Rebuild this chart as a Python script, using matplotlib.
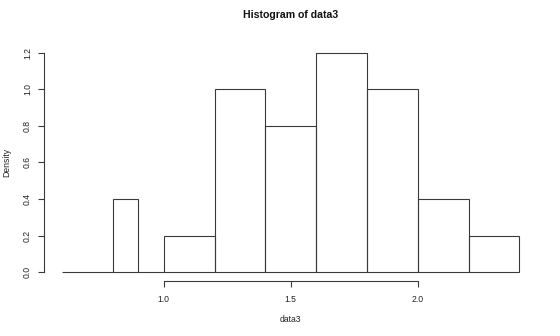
import numpy as np
import matplotlib
matplotlib.use("Agg")
import matplotlib.pyplot as plt

# Histogram of data3 (R style, density scale)
breaks = [0.6, 0.8, 0.9, 1.0, 1.2, 1.4, 1.6, 1.8, 2.0, 2.2, 2.4]
density = [0.0, 0.4, 0.0, 0.2, 1.0, 0.8, 1.2, 1.0, 0.4, 0.2]
x_ticks = [1.0, 1.5, 2.0]
y_ticks = [0.0, 0.2, 0.4, 0.6, 0.8, 1.0, 1.2]

LINE = "#3a3a3a"
TEXT = "#222222"

plt.rcParams["font.family"] = ["Liberation Sans", "DejaVu Sans"]

W, H = 560, 336
fig = plt.figure(figsize=(W / 100, H / 100), dpi=100)
fig.patch.set_facecolor("white")

# plot region in pixels
left, right, top, bottom = 43.8, 537.7, 43.9, 281.0
ax = fig.add_axes([left / W, 1 - bottom / H, (right - left) / W, (bottom - top) / H])

edges = np.array(breaks)
ax.bar(edges[:-1], density, width=np.diff(edges), align="edge",
       fill=False, edgecolor=LINE, linewidth=0.8)

# R adds 4% on both sides
xr = edges[-1] - edges[0]
ax.set_xlim(edges[0] - 0.04 * xr, edges[-1] + 0.04 * xr)
yr = max(y_ticks)
ax.set_ylim(-0.04 * yr, yr * 1.04)

for s in ["top", "right"]:
    ax.spines[s].set_visible(False)
ax.spines["left"].set_bounds(y_ticks[0], y_ticks[-1])
ax.spines["bottom"].set_bounds(x_ticks[0], x_ticks[-1])
for s in ["left", "bottom"]:
    ax.spines[s].set_color(LINE)
    ax.spines[s].set_linewidth(0.8)

ax.set_xticks(x_ticks)
ax.set_xticklabels([f"{v:.1f}" for v in x_ticks])
ax.set_yticks(y_ticks)
ax.set_yticklabels([f"{v:.1f}" for v in y_ticks], rotation=90, va="center")
ax.tick_params(axis="both", length=4, width=0.8, color=LINE,
               labelsize=6.2, labelcolor=TEXT)
ax.tick_params(axis="x", pad=6)
ax.tick_params(axis="y", pad=4.5)

ax.set_xlabel("data3", fontsize=6.2, color=TEXT)
ax.xaxis.set_label_coords(0.5, (bottom - 319) / (bottom - top))
ax.xaxis.label.set_va("center")
ax.set_ylabel("Density", fontsize=6.2, color=TEXT)
ax.yaxis.set_label_coords((7.0 - left) / (right - left), 0.5)
ax.yaxis.label.set_va("center")

ax.set_title("Histogram of data3", fontsize=7.6, fontweight="bold", color="#111111",
             y=(bottom - 23) / (bottom - top), va="center")

fig.savefig("out.png", dpi=100, facecolor="white")
